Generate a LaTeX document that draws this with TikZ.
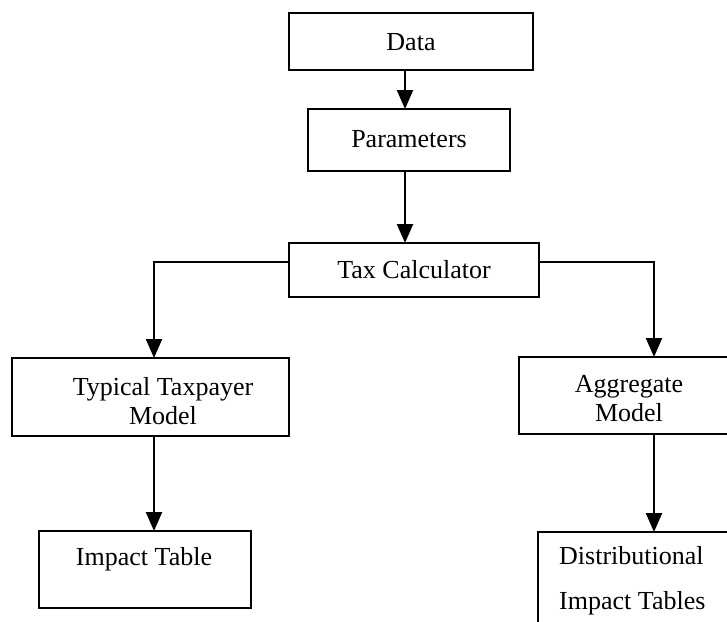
\documentclass[tikz,border=0pt]{standalone}
\usepackage{fontspec}
\setmainfont{Liberation Serif}
\usetikzlibrary{arrows.meta}
\begin{document}
\begin{tikzpicture}[x=1pt,y=-1pt,
  box/.style={draw,line width=1.8pt,outer sep=0pt,inner sep=0pt,anchor=north west},
  lbl/.style={font=\fontsize{26}{29}\selectfont,align=center,inner sep=0pt},
  arr/.style={line width=2.4pt,-{Triangle[length=19pt,width=16pt]}},
  plain/.style={line width=2.2pt}]
\useasboundingbox (0,0) rectangle (727,621);
\clip (0,0) rectangle (727,621);
% boxes
\node[box,minimum width=244pt,minimum height=57pt] (data) at (289,13) {};
\node[box,minimum width=202pt,minimum height=62pt] (param) at (308,109) {};
\node[box,minimum width=250pt,minimum height=54pt] (tax) at (289,243) {};
\node[box,minimum width=277pt,minimum height=78pt] (typ) at (12,358) {};
\node[box,minimum width=271pt,minimum height=77pt] (agg) at (519,357) {};
\node[box,minimum width=212pt,minimum height=77pt] (imp) at (39,531) {};
\node[box,minimum width=240pt,minimum height=120pt] (dist) at (538,532) {};
% texts
\node[lbl] (tdata) at (411,42) {Data};
\node[lbl] (tparam) at (409,139) {Parameters};
\node[lbl] (ttax) at (414,270) {Tax Calculator};
\node[lbl] (ttyp) at (163,401) {Typical Taxpayer\\Model};
\node[lbl] (tagg) at (629,399) {Aggregate\\Model};
\node[lbl] (timp) at (144,559) {Impact Table};
\node[lbl,align=left,anchor=west,font=\fontsize{26}{45}\selectfont] (tdist) at (559,581) {Distributional\\Impact Tables};
% connector coordinates
\coordinate (cx) at (405,0);
\coordinate (lx) at (154,262);
\coordinate (rx) at (654,262);
% connectors
\draw[arr] (data.south -| cx) -- (param.north -| cx);
\draw[arr] (param.south -| cx) -- (tax.north -| cx);
\draw[plain] (tax.west |- lx) -- ([xshift=-1pt]lx);
\draw[arr] (lx) -- (typ.north -| lx);
\draw[plain] (tax.east |- rx) -- ([xshift=1pt]rx);
\draw[arr] (rx) -- (agg.north -| rx);
\draw[arr] (typ.south -| lx) -- (imp.north -| lx);
\draw[arr] (agg.south -| rx) -- (dist.north -| rx);
\end{tikzpicture}
\end{document}
